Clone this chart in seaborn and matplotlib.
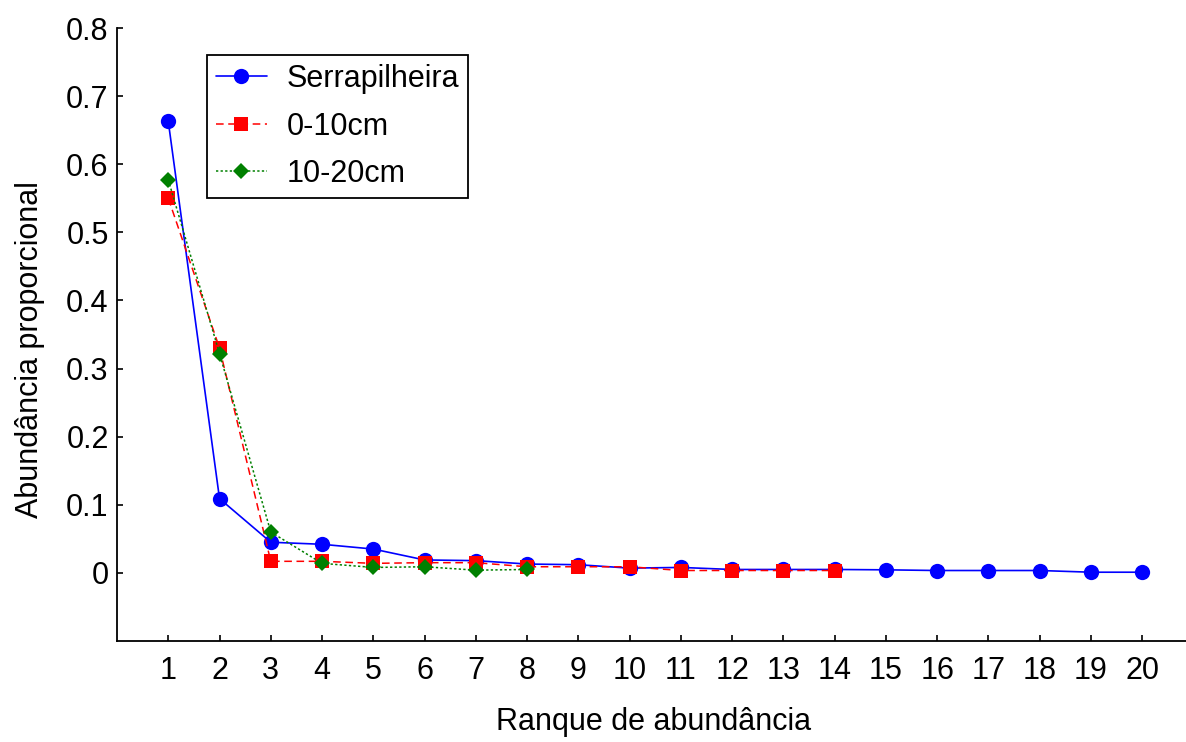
import matplotlib
matplotlib.use("Agg")
import matplotlib.pyplot as plt
import seaborn as sns
import pandas as pd
from matplotlib.ticker import FuncFormatter

sns.set_theme(style="white")
plt.rcParams['font.family'] = ['Liberation Sans', 'DejaVu Sans']
plt.rcParams['text.color'] = 'black'

# Data
ranks_serra = list(range(1, 21))
serrapilheira = [0.663, 0.109, 0.045, 0.042, 0.035, 0.019, 0.018, 0.013, 0.012, 0.007,
                 0.008, 0.005, 0.005, 0.005, 0.0045, 0.0035, 0.0035, 0.0035, 0.001, 0.001]
ranks_0_10 = list(range(1, 15))
cm0_10 = [0.550, 0.330, 0.017, 0.017, 0.014, 0.015, 0.015, 0.009, 0.009, 0.009,
          0.0035, 0.0035, 0.0035, 0.0035]
ranks_10_20 = list(range(1, 9))
cm10_20 = [0.577, 0.322, 0.060, 0.014, 0.008, 0.009, 0.004, 0.005]

x_ticks = list(range(1, 21))
y_ticks = [0, 0.1, 0.2, 0.3, 0.4, 0.5, 0.6, 0.7, 0.8]

df_s = pd.DataFrame({"rank": ranks_serra, "val": serrapilheira})
df_a = pd.DataFrame({"rank": ranks_0_10, "val": cm0_10})
df_b = pd.DataFrame({"rank": ranks_10_20, "val": cm10_20})

W, H = 1186, 742
fig = plt.figure(figsize=(W / 100, H / 100), dpi=100)
unit = 51.26
ax_w = 21 * unit
ax_h = 641 - 28
ax = fig.add_axes([117 / W, (H - 641) / H, ax_w / W, ax_h / H])

sns.lineplot(data=df_s, x="rank", y="val", ax=ax, color="#0000ff", linestyle="-",
             marker="o", markersize=11, markeredgewidth=0, linewidth=1.2,
             label="Serrapilheira")
sns.lineplot(data=df_a, x="rank", y="val", ax=ax, color="#ff0000", linestyle=(0, (5, 3)),
             marker="s", markersize=10.5, markeredgewidth=0, linewidth=1.1,
             label="0-10cm")
sns.lineplot(data=df_b, x="rank", y="val", ax=ax, color="#008000", linestyle=(0, (1.5, 1.5)),
             marker="D", markersize=8.5, markeredgewidth=0, linewidth=1.1,
             label="10-20cm")

ax.set_xlim(0, 21)
ax.set_ylim(-0.1, 0.8)
ax.set_xticks(x_ticks)
ax.set_yticks(y_ticks)
ax.yaxis.set_major_formatter(FuncFormatter(lambda v, p: "0" if abs(v) < 1e-9 else f"{v:.1f}"))
ax.tick_params(bottom=True, left=True, direction="in", length=4, width=1.2,
               labelsize=22, colors="black", labelcolor="black")
ax.tick_params(axis="y", pad=6)
ax.tick_params(axis="x", pad=11)
for s in ["top", "right"]:
    ax.spines[s].set_visible(False)
for s in ["left", "bottom"]:
    ax.spines[s].set_color("black")
    ax.spines[s].set_linewidth(1.3)

ax.set_xlabel("Ranque de abundância", fontsize=22, color="black")
ax.set_ylabel("Abundância proporcional", fontsize=22, color="black")
ax.xaxis.set_label_coords((654 - 117) / ax_w, -(722 - 641) / ax_h)
ax.xaxis.label.set_va("center")
ax.yaxis.set_label_coords(-(117 - 30) / ax_w, (641 - 350) / ax_h)
ax.yaxis.label.set_va("center")

leg = ax.legend(loc="upper left", bbox_to_anchor=((207 - 117) / ax_w, (641 - 55) / ax_h),
                fontsize=22, frameon=True, fancybox=False, borderpad=0.3,
                handlelength=1.65, labelspacing=0.57, handletextpad=0.65, borderaxespad=0)
leg.get_frame().set_edgecolor("black")
leg.get_frame().set_linewidth(1.3)
leg.get_frame().set_alpha(1)
for t in leg.get_texts():
    t.set_color("black")

fig.savefig("out.png", dpi=100)
